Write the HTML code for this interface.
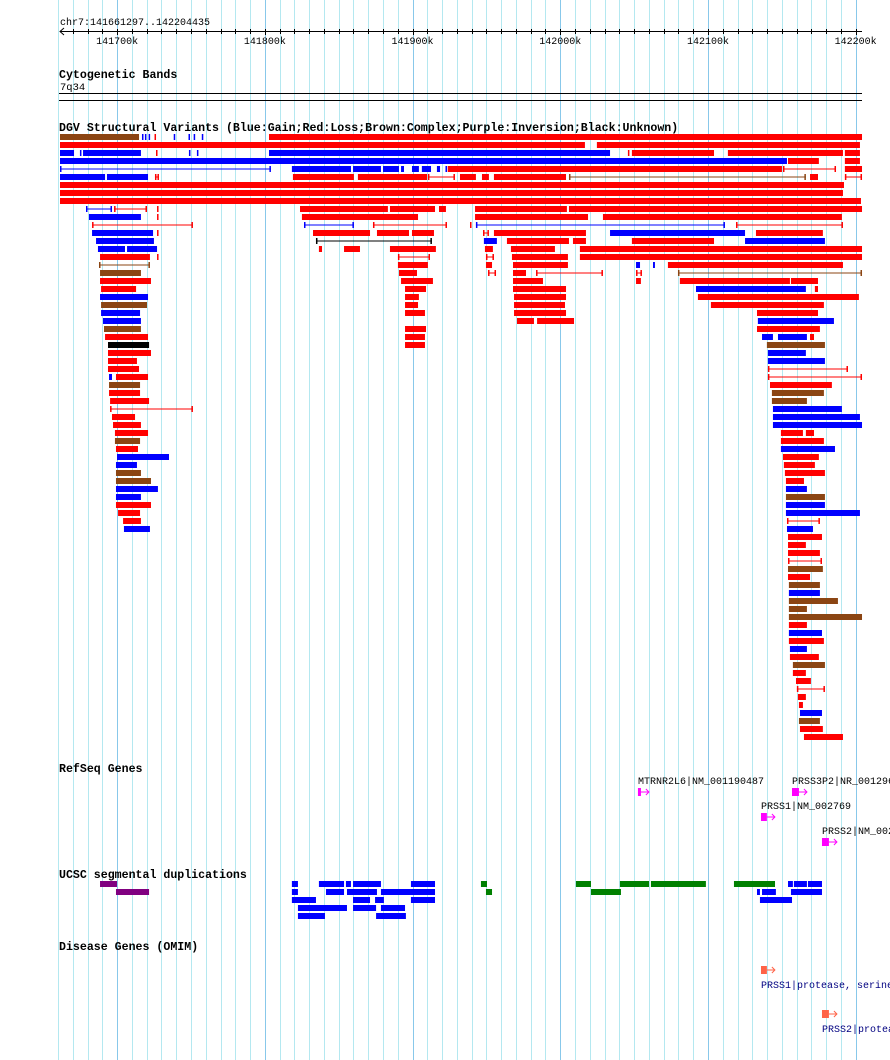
<!DOCTYPE html>
<html><head><meta charset="utf-8"><style>
html,body{margin:0;padding:0;background:#fff;width:890px;height:1060px;overflow:hidden}
svg{display:block}
text{font-family:"Liberation Mono","DejaVu Sans Mono",monospace}
.ttl{font-weight:bold;font-size:11.6px}
</style></head><body>
<svg id="chart" width="890" height="1060" viewBox="0 0 890 1060" xmlns="http://www.w3.org/2000/svg">
<g id="grid"></g>
<g id="ruler">
<text x="60" y="25" font-size="10">chr7:141661297..142204435</text>
<line x1="60" y1="31.5" x2="862" y2="31.5" stroke="#000"/>
<path d="M64 28 L60 31.5 L64 35" fill="none" stroke="#000"/>
</g>
<text class="ttl" x="59" y="78">Cytogenetic Bands</text>
<text x="60" y="90" font-size="10.5">7q34</text>
<rect x="59" y="93" width="803" height="1" fill="#000"/>
<rect x="59" y="100" width="803" height="1" fill="#000"/>
<text class="ttl" x="59" y="131">DGV Structural Variants (Blue:Gain;Red:Loss;Brown:Complex;Purple:Inversion;Black:Unknown)</text>
<g id="dgv"></g>
<text class="ttl" x="59" y="772">RefSeq Genes</text>
<g id="genes"></g>
<text class="ttl" x="59" y="878">UCSC segmental duplications</text>
<g id="segdup"></g>
<text class="ttl" x="59" y="950">Disease Genes (OMIM)</text>
<g id="omim"></g>
</svg>
<script>
// positions in kb offset from window start (chr7:141661.297k)
const windowStartKb = 141661.297;
const tickLabels = ["141700k","141800k","141900k","142000k","142100k","142200k"];
const tickKb = [141700,141800,141900,142000,142100,142200];
// DGV rows: [start, end, type]; r/b/n/k = bars (loss/gain/complex/unknown); R/B/N = thin lines
const dgvRows = [
[[0,53.5,'n'],[55.5,56.5,'b'],[57.5,58.5,'b'],[60,61,'b'],[64,65,'r'],[77,78,'b'],[87,88,'b'],[90.5,91.5,'b'],[96,97,'b'],[141.5,543,'r']],
[[0,355.4,'r'],[363.5,541.6,'r']],
[[0,9.5,'b'],[13.5,14.5,'b'],[15.6,54.8,'b'],[65,66,'r'],[87.3,88.3,'b'],[92.7,93.7,'b'],[141.5,372.4,'b'],[384.5,385.5,'r'],[387.2,442.8,'r'],[452.2,530.1,'r'],[531.4,541.6,'r']],
[[0,492.2,'b'],[492.9,513.8,'r'],[531.4,541.6,'r']],
[[0,142.8,'B'],[157,197,'b'],[198.4,217.3,'b'],[218.7,229.5,'b'],[230.9,232.9,'b'],[238.3,243,'b'],[245,251.2,'b'],[255.2,257.3,'b'],[261,262,'b'],[262.5,488.8,'r'],[489.5,525.4,'R'],[531.4,543,'r']],
[[0,30.5,'b'],[31.8,59.6,'b'],[64.3,67,'R'],[157.7,199,'r'],[201.7,248.5,'r'],[249.1,267.4,'R'],[270.8,281.6,'r'],[285.7,290.4,'r'],[293.8,342.6,'r'],[344.6,505,'N'],[507.8,513.2,'r'],[531.4,543,'R']],
[[0,530.8,'r']],
[[0,530.1,'r']],
[[0,542.3,'r']],
[[17.6,35.2,'B'],[36.6,58.9,'R'],[65.7,66.7,'r'],[162.5,222,'r'],[223.4,253.9,'r'],[256.6,261.3,'r'],[281,343.2,'r'],[344.6,543,'r']],
[[19.6,54.8,'b'],[65.7,66.7,'r'],[163.8,242.4,'r'],[281,357.5,'r'],[367.6,529.4,'r']],
[[21.7,90,'R'],[165.2,199,'B'],[211.9,262,'R'],[277.6,278.6,'r'],[281.6,450.2,'B'],[457.7,530.1,'R']],
[[21.7,63,'b'],[65.7,66.7,'r'],[171.3,209.9,'r'],[214.6,236.3,'r'],[238.3,253.2,'r'],[286.4,290.4,'R'],[293.8,356.1,'r'],[372.4,463.8,'b'],[471.2,516.5,'r']],
[[24.4,63.6,'b'],[173.3,251.8,'K'],[287,295.8,'b'],[302.6,344.6,'r'],[347.3,356.1,'r'],[387.2,442.8,'r'],[463.8,517.9,'b']],
[[25.7,44,'b'],[45.4,65.7,'b'],[175.3,177.4,'r'],[192.3,203.1,'r'],[223.4,254.5,'r'],[287.7,293.1,'r'],[305.3,335.1,'r'],[352,543,'r']],
[[27.1,60.9,'r'],[65.7,66.7,'r'],[228.8,250.5,'R'],[288.4,293.8,'R'],[306,343.9,'r'],[352,543,'r']],
[[26.4,60.9,'N'],[228.8,249.1,'r'],[288.4,292.5,'r'],[306.7,343.9,'r'],[390,392.7,'b'],[401.5,402.8,'b'],[411.6,530.1,'r']],
[[27.1,54.8,'n'],[229.5,241.7,'r'],[289.8,295.2,'R'],[306.7,315.5,'r'],[322.3,367.6,'R'],[390,394,'R'],[418.4,543,'N']],
[[27.1,61.6,'r'],[230.9,252.5,'r'],[306.7,327,'r'],[390,393.3,'r'],[419.7,494.2,'r'],[494.9,513.2,'r']],
[[27.8,51.5,'r'],[233.6,247.8,'r'],[306.7,342.6,'r'],[430.6,505,'b'],[511.1,513.2,'r']],
[[27.1,59.6,'b'],[233.6,243,'r'],[307.4,342.6,'r'],[431.9,540.9,'r']],
[[27.8,58.9,'n'],[233.6,242.4,'r'],[307.4,341.9,'r'],[440.7,517.2,'r']],
[[27.8,54.2,'b'],[233.6,247.1,'r'],[307.4,342.6,'r'],[471.9,513.2,'r']],
[[29.1,54.8,'b'],[309.4,320.9,'r'],[323,348,'r'],[472.5,524,'b']],
[[29.8,54.8,'n'],[233.6,247.8,'r'],[471.9,514.5,'r']],
[[30.5,59.6,'r'],[233.6,247.1,'r'],[475.3,482.7,'b'],[486.1,505.7,'b'],[507.8,510.5,'r']],
[[32.5,60.3,'k'],[233.6,247.1,'r'],[478.6,517.9,'n']],
[[32.5,61.6,'r'],[479.3,505,'b']],
[[32.5,52.1,'r'],[479.3,517.9,'b']],
[[32.5,53.5,'r'],[479.3,533.5,'R']],
[[33.2,35.2,'b'],[37.9,59.6,'r'],[479.3,543,'R']],
[[33.2,54.2,'n'],[480.7,522.6,'r']],
[[33.2,54.2,'r'],[482,517.2,'n']],
[[33.9,60.3,'r'],[482,505.7,'n']],
[[33.9,90,'R'],[482.7,529.4,'b']],
[[35.2,50.8,'r'],[482.7,541.6,'b']],
[[35.9,54.8,'r'],[482.7,543,'b']],
[[37.2,59.6,'r'],[488.1,503,'r'],[505,510.5,'r']],
[[37.2,54.2,'n'],[488.1,517.2,'r']],
[[37.9,52.8,'r'],[488.1,524.7,'b']],
[[38.6,73.8,'b'],[489.5,513.8,'r']],
[[37.9,52.1,'b'],[490.1,511.1,'r']],
[[37.9,54.8,'n'],[490.8,517.9,'r']],
[[37.9,61.6,'n'],[491.5,503.7,'r']],
[[37.9,66.3,'b'],[491.5,505.7,'b']],
[[37.9,54.8,'b'],[491.5,517.9,'n']],
[[37.9,61.6,'r'],[491.5,517.9,'b']],
[[39.3,54.2,'r'],[491.5,541.6,'b']],
[[42.7,54.8,'r'],[492.2,514.5,'R']],
[[43.3,60.9,'b'],[492.2,509.8,'b']],
[[492.9,515.9,'r']],
[[492.9,505,'r']],
[[492.9,514.5,'r']],
[[492.9,515.9,'R']],
[[492.9,516.5,'n']],
[[492.9,507.8,'r']],
[[493.5,514.5,'n']],
[[493.5,514.5,'b']],
[[493.5,526.7,'n']],
[[493.5,505.7,'n']],
[[493.5,543,'n']],
[[493.5,505.7,'r']],
[[493.5,515.9,'b']],
[[493.5,517.2,'r']],
[[494.2,505.7,'b']],
[[494.2,513.8,'r']],
[[496.2,517.9,'n']],
[[496.2,505,'r']],
[[498.3,508.4,'r']],
[[498.9,517.9,'R']],
[[499.6,505,'r']],
[[500.3,503,'r']],
[[501,515.9,'b']],
[[500.3,514.5,'n']],
[[501,516.5,'r']],
[[503.7,530.1,'r']]
];
// segmental duplication rows: [start, end, type] p=purple g=green b=blue
const segdupRows = [
[[27.1,38.6,'p'],[157,161.1,'b'],[175.3,192.3,'b'],[193.6,197,'b'],[198.4,217.3,'b'],[237.6,253.9,'b'],[285,289.1,'g'],[349.3,359.5,'g'],[379.1,398.8,'g'],[400.1,437.3,'g'],[456.3,484.1,'g'],[492.9,496.2,'b'],[496.9,505.7,'b'],[506.4,515.9,'b']],
[[37.9,60.3,'p'],[157,161.1,'b'],[180.1,192.3,'b'],[194.3,214.6,'b'],[217.3,253.9,'b'],[288.4,292.5,'g'],[359.5,379.8,'g'],[471.9,473.9,'b'],[475.3,484.7,'b'],[494.9,515.9,'b']],
[[157,173.3,'b'],[198.4,209.9,'b'],[213.3,219.3,'b'],[237.6,253.9,'b'],[473.9,495.6,'b']],
[[161.1,194.3,'b'],[198.4,214,'b'],[217.3,233.6,'b']],
[[161.1,179.4,'b'],[214,234.2,'b']]
];
const geneNames = ["MTRNR2L6|NM_001190487","PRSS3P2|NR_001296","PRSS1|NM_002769","PRSS2|NM_002770"];
const geneStart = [391.3,495.6,474.6,515.9];
const geneEnd = [393.3,500.3,478.6,520.6];
const omimNames = ["PRSS1|protease, serine, 1 (trypsin 1)","PRSS2|protease, serine, 2 (trypsin 2)"];
const omimStart = [474.6,515.9];
const omimEnd = [478.6,520.6];

const NS="http://www.w3.org/2000/svg";
const pxPerKb = 1.477, x0 = 60;
function xs(off){return x0 + off*pxPerKb;}
function xg(kb){return xs(kb-windowStartKb);}
function mk(tag,attrs,parent){const e=document.createElementNS(NS,tag);for(const k in attrs)e.setAttribute(k,attrs[k]);parent.appendChild(e);return e;}
const colors={r:'#ff0000',b:'#0000ff',n:'#8b4513',k:'#000000',p:'#800080',g:'#008000'};

// grid lines every 10kb
const grid=document.getElementById('grid');
for(let kb=141660;kb<=142200;kb+=10){
  const x=Math.round(xg(kb))+0.5;
  const major = kb%100===0;
  const l=mk('line',{x1:x,y1:0,x2:x,y2:1060,stroke:major?'#88c8ea':'#b4e8f0','stroke-width':1},grid);
  
  
}
// ruler ticks
const ruler=document.getElementById('ruler');
for(let kb=141670;kb<=142200;kb+=10){
  const x=Math.round(xg(kb))+0.5;
  const t=mk('line',{x1:x,y1:29,x2:x,y2:kb%100===0?35:34,stroke:'#000'},ruler);
  
  
}
tickKb.forEach((kb,i)=>{
  const t=mk('text',{x:xg(kb),y:44,'font-size':'10','text-anchor':'middle'},ruler);
  t.textContent=tickLabels[i];
  
  
});

function drawFeature(parent,s,e,y,t,h){
  const lower=t.toLowerCase();
  const c=colors[lower];
  const x1=xs(s), x2=Math.max(xs(e),x1+1.5);
  if(t!==lower){
    const g=mk('g',{},parent);
    
    
    mk('rect',{x:x1,y:y+h/2-0.5,width:x2-x1,height:1,fill:c},g);
    mk('rect',{x:x1,y:y,width:1.5,height:h,fill:c},g);
    mk('rect',{x:x2-1.5,y:y,width:1.5,height:h,fill:c},g);
  } else {
    const r=mk('rect',{x:x1,y:y,width:x2-x1,height:h,fill:c},parent);
    
    
  }
}
const dgv=document.getElementById('dgv');
dgvRows.forEach((row,i)=>row.forEach(f=>drawFeature(dgv,f[0],f[1],134+i*8,f[2],6)));
const sd=document.getElementById('segdup');
segdupRows.forEach((row,i)=>row.forEach(f=>drawFeature(sd,f[0],f[1],881+i*8,f[2],6)));

// genes
const genes=document.getElementById('genes');
const geneY=[788,788,813,838];
geneNames.forEach((n,i)=>{
  const y=geneY[i];
  const g=mk('g',{},genes);
  
  
  const tx=mk('text',{x:xs(geneStart[i]),y:y-4,'font-size':'10'},g);
  tx.textContent=n;
  const x1=xs(geneStart[i]), x2=xs(geneEnd[i]);
  mk('rect',{x:x1,y:y,width:Math.max(x2-x1,3),height:8,fill:'#ff00ff'},g);
  mk('line',{x1:x2,y1:y+4,x2:x2+8,y2:y+4,stroke:'#ff00ff'},g);
  mk('path',{d:`M${x2+5} ${y+1} L${x2+8} ${y+4} L${x2+5} ${y+7}`,fill:'none',stroke:'#ff00ff'},g);
});
const omim=document.getElementById('omim');
const omimY=[966,1010];
omimNames.forEach((n,i)=>{
  const y=omimY[i];
  const g=mk('g',{},omim);
  
  
  const x1=xs(omimStart[i]), x2=xs(omimEnd[i]);
  mk('rect',{x:x1,y:y,width:Math.max(x2-x1,3),height:8,fill:'#ff6347'},g);
  mk('line',{x1:x2,y1:y+4,x2:x2+8,y2:y+4,stroke:'#ff6347'},g);
  mk('path',{d:`M${x2+5} ${y+1} L${x2+8} ${y+4} L${x2+5} ${y+7}`,fill:'none',stroke:'#ff6347'},g);
  const tx=mk('text',{x:x1,y:y+22,'font-size':'10',fill:'#000080'},g);
  tx.textContent=n;
});
</script>
</body></html>
